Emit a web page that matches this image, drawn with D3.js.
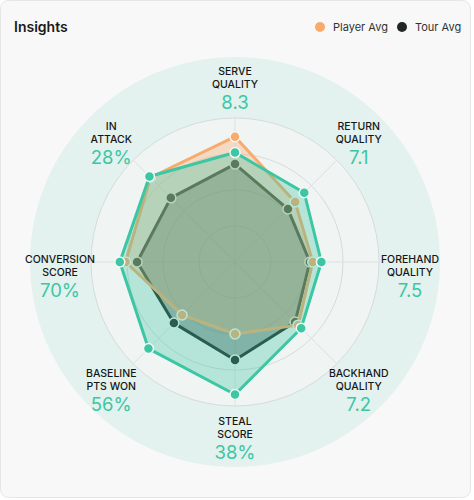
<!DOCTYPE html>
<html><head><meta charset="utf-8">
<script src="https://cdn.jsdelivr.net/npm/d3@7/dist/d3.min.js"></script>
<style>
html,body{margin:0;padding:0;background:#fff;}
svg{display:block;font-family:Inter,"Noto Sans",sans-serif;}
</style></head>
<body>
<svg id="chart" width="474" height="500"></svg>
<script>
// ---- data ----
const axisLabels = [["SERVE","QUALITY"],["RETURN","QUALITY"],["FOREHAND","QUALITY"],["BACKHAND","QUALITY"],["STEAL","SCORE"],["BASELINE","PTS WON"],["CONVERSION","SCORE"],["IN","ATTACK"]];
const valueLabels = ["8.3","7.1","7.5","7.2","38%","56%","70%","28%"];
const playerScores = [0.76,0.68,0.60,0.65,0.92,0.85,0.80,0.84];
const playerAvg    = [0.87,0.59,0.54,0.62,0.50,0.52,0.76,0.83];
const tourAvg      = [0.68,0.52,0.52,0.59,0.68,0.60,0.68,0.63];
const gridLevels = [0.25,0.5,0.75,1];
const legendNames = ["Player Avg","Tour Avg"];

const svg = d3.select("#chart");
// card
svg.append("rect").attr("x",0.5).attr("y",0.5).attr("width",470).attr("height",497)
  .attr("rx",8).attr("fill","#f8f8f8").attr("stroke","#e6e6e6");
svg.append("text").attr("x",14).attr("y",32).text("Insights")
  .attr("font-size",14).attr("font-weight",600).attr("fill","#1a1a1a");

// legend
const legendColors = ["#f8ab6c","#222624"];
const lg = svg.append("g");
const legendX = [320,402];
legendNames.forEach((n,i)=>{
  lg.append("circle").attr("cx",legendX[i]).attr("cy",27).attr("r",5).attr("fill",legendColors[i]);
  lg.append("text").attr("x",legendX[i]+13).attr("y",31).text(n).attr("font-size",11).attr("fill","#333");
});

const cx=235, cy=262, R=144, Rout=205, Rlab=175;
const g = svg.append("g").attr("transform",`translate(${cx},${cy})`);
const r = d3.scaleLinear().domain([0,1]).range([0,R]);
const n = axisLabels.length;
const ang = d3.scaleLinear().domain([0,n]).range([0,2*Math.PI]);

g.append("circle").attr("r",Rout).attr("fill","#e3f2ee");
g.append("circle").attr("r",R).attr("fill","#f0f5f4");
gridLevels.forEach(l=>{
  g.append("circle").attr("r",r(l)).attr("fill","none").attr("stroke","#d6dbdb").attr("stroke-width",1);
});
d3.range(n).forEach(i=>{
  const a = ang(i)-Math.PI/2;
  g.append("line").attr("x1",0).attr("y1",0).attr("x2",R*Math.cos(a)).attr("y2",R*Math.sin(a))
    .attr("stroke","#dde1e1").attr("stroke-width",1);
});

const line = d3.lineRadial().angle((d,i)=>ang(i)).radius(d=>r(d)).curve(d3.curveLinearClosed);
const series = [
  {vals:tourAvg, color:"#1e2a26", fill:"#1e2a26", fo:0.36},
  {vals:playerAvg, color:"#f8ab6c", fill:"#f6a96b", fo:0.35},
  {vals:playerScores, color:"#3dc6a3", fill:"#3dc6a3", fo:0.33}
];
series.forEach(s=>{
  const sg = g.append("g");
  sg.append("path").attr("d",line(s.vals)).attr("fill",s.fill).attr("fill-opacity",s.fo)
    .attr("stroke",s.color).attr("stroke-width",3).attr("stroke-linejoin","round");
  sg.selectAll("circle").data(s.vals).join("circle")
    .attr("cx",(d,i)=>r(d)*Math.cos(ang(i)-Math.PI/2))
    .attr("cy",(d,i)=>r(d)*Math.sin(ang(i)-Math.PI/2))
    .attr("r",5).attr("fill",s.color).attr("stroke","#f3f7f6").attr("stroke-width",1.5);
});

// labels
d3.range(n).forEach(i=>{
  const a = ang(i)-Math.PI/2;
  const x = Rlab*Math.cos(a);
  const c = Math.cos(a);
  const y = Rlab*Math.sin(a) + 13*Math.pow(c,4);
  const t = g.append("text").attr("text-anchor","middle").attr("fill","#161616")
    .attr("font-size",10.5).attr("font-weight",500);
  t.append("tspan").attr("x",x).attr("y",y-12).text(axisLabels[i][0]);
  t.append("tspan").attr("x",x).attr("y",y+1).text(axisLabels[i][1]);
  g.append("text").attr("x",x).attr("y",y+22).attr("text-anchor","middle")
    .attr("font-size",18.5).attr("font-weight",400).attr("fill","#3dc6a3").text(valueLabels[i]);
});
</script>
</body></html>
